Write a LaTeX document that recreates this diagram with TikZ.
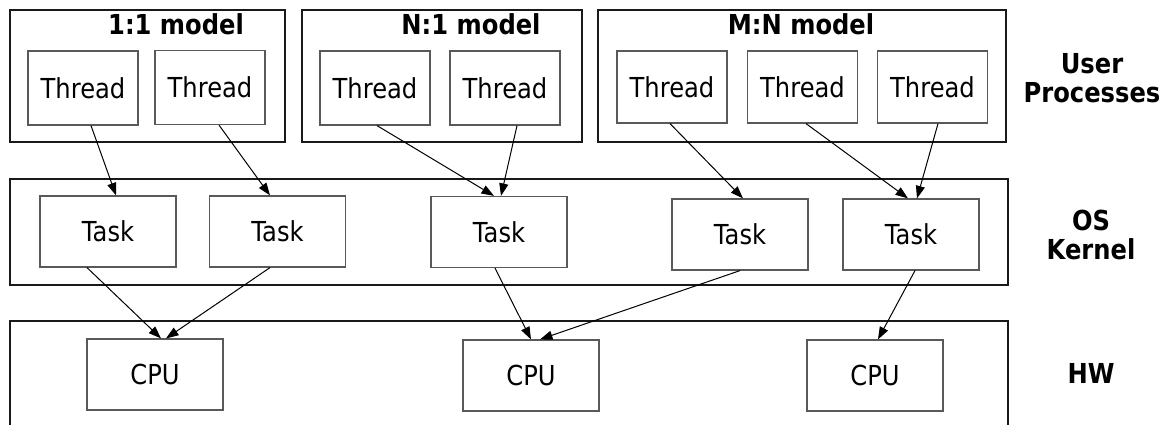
\documentclass[tikz,border=0pt]{standalone}
\usepackage{fontspec}
\setmainfont{DejaVu Sans}[FakeStretch=0.88]
\usetikzlibrary{arrows.meta}
\begin{document}
\begin{tikzpicture}[x=1pt,y=-1pt,
  layer/.style={draw=black!90, line width=2.2pt},
  unit/.style={draw=black!65, line width=1.2pt, fill=white, inner sep=0,
               font=\fontsize{27.5}{30}\selectfont},
  thr/.style={unit, minimum width=110pt, minimum height=74pt},
  tsk/.style={unit, minimum width=136pt, minimum height=71pt},
  hdr/.style={font=\fontsize{27.5}{30}\selectfont\bfseries, inner sep=0, anchor=base},
  side/.style={font=\fontsize{27.5}{29}\selectfont\bfseries, align=center, inner sep=0},
  link/.style={-{Triangle[length=12.5pt,width=9pt]}, line width=1pt, black},
]
\clip (0,0) rectangle (1171,425);
\fill[white] (0,0) rectangle (1171,425);

% layers
\node[layer, minimum width=275pt, minimum height=132pt] (p1) at (147.5,76) {};
\node[layer, minimum width=280pt, minimum height=132pt] (p2) at (442,76) {};
\node[layer, minimum width=408pt, minimum height=132pt] (p3) at (802,76) {};
\node[layer, minimum width=998pt, minimum height=106pt] (os) at (509,232) {};
\node[layer, minimum width=998pt, minimum height=149pt] (hw) at (509,395.5) {};

% model titles
\node[hdr] (h1) at (176,35) {1:1 model};
\node[hdr] (h2) at (471,35) {N:1 model};
\node[hdr] (h3) at (801,35) {M:N model};

% user threads
\node[thr] (t1) at (83,88) {Thread};
\node[thr] (t2) at (210,87.5) {Thread};
\node[thr] (t3) at (375,88) {Thread};
\node[thr] (t4) at (505,88) {Thread};
\node[thr, minimum height=72pt] (t5) at (672,87) {Thread};
\node[thr, minimum height=72pt] (t6) at (802.5,87) {Thread};
\node[thr, minimum height=72pt] (t7) at (932.5,87) {Thread};

% kernel tasks
\node[tsk] (k1) at (108,231.5) {Task};
\node[tsk] (k2) at (277.5,231.5) {Task};
\node[tsk] (k3) at (499,232) {Task};
\node[tsk] (k4) at (740,234.5) {Task};
\node[tsk] (k5) at (911,234.5) {Task};

% processors
\node[tsk] (c1) at (155,374.5) {CPU};
\node[tsk] (c2) at (531,375.5) {CPU};
\node[tsk] (c3) at (875,375.5) {CPU};

% layer captions
\node[side] (lu) at (1092,78) {User\\Processes};
\node[side] (lk) at (1091,235) {OS\\Kernel};
\node[hdr] (lh) at (1091,383) {HW};

% thread -> task
\draw[link] ([xshift=8pt]t1.south) -- ([xshift=8pt]k1.north);
\draw[link] ([xshift=9pt]t2.south) -- ([xshift=-7.5pt]k2.north);
\draw[link] ([xshift=2pt]t3.south) -- ([xshift=-5pt]k3.north);
\draw[link] ([xshift=12pt]t4.south) -- ([xshift=2pt]k3.north);
\draw[link] ([xshift=-2pt]t5.south) -- ([xshift=3pt]k4.north);
\draw[link] ([xshift=3.5pt]t6.south) -- ([xshift=-3pt]k5.north);
\draw[link] ([xshift=5.5pt]t7.south) -- ([xshift=6pt]k5.north);

% task -> cpu
\draw[link] ([xshift=-21pt]k1.south) -- ([xshift=6pt]c1.north);
\draw[link] ([xshift=-7.5pt]k2.south) -- ([xshift=11pt]c1.north);
\draw[link] ([xshift=-4pt]k3.south) -- (c2.north);
\draw[link] (k4.south) -- ([xshift=9pt]c2.north);
\draw[link] ([xshift=4pt]k5.south) -- ([xshift=3pt]c3.north);
\end{tikzpicture}
\end{document}
